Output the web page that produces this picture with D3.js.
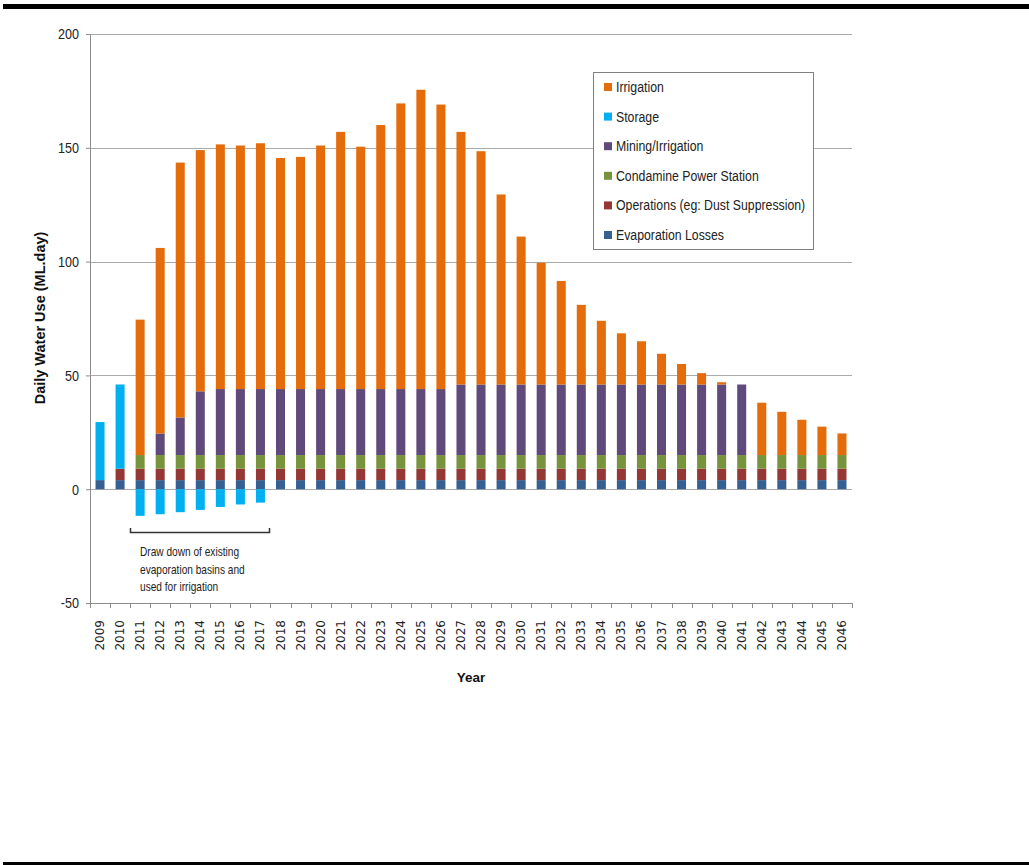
<!DOCTYPE html>
<html>
<head>
<meta charset="utf-8">
<script src="https://cdn.jsdelivr.net/npm/d3@7/dist/d3.min.js"></script>
<style>
html,body{margin:0;padding:0;background:#fff;}
svg{display:block;}
</style>
</head>
<body>
<script>
const years = d3.range(2009, 2047).map(String);
const evaporation = [4,4,4,4,4,4,4,4,4,4,4,4,4,4,4,4,4,4,4,4,4,4,4,4,4,4,4,4,4,4,4,4,4,4,4,4,4,4];
const operations  = [0,5,5,5,5,5,5,5,5,5,5,5,5,5,5,5,5,5,5,5,5,5,5,5,5,5,5,5,5,5,5,5,5,5,5,5,5,5];
const condamine   = [0,0,6,6,6,6,6,6,6,6,6,6,6,6,6,6,6,6,6,6,6,6,6,6,6,6,6,6,6,6,6,6,6,6,6,6,6,6];
const storage     = [25.5,37,-11.7,-11,-10.1,-9.1,-7.8,-6.7,-5.9,0,0,0,0,0,0,0,0,0,0,0,0,0,0,0,0,0,0,0,0,0,0,0,0,0,0,0,0,0];
const mining      = [0,0,0,9.5,16.5,28,29,29,29,29,29,29,29,29,29,29,29,29,31,31,31,31,31,31,31,31,31,31,31,31,31,31,31,0,0,0,0,0];
const irrigation  = [0,0,59.5,81.5,112,106,107.5,107,108,101.5,102,107,113,106.5,116,125.5,131.5,125,111,102.5,83.5,65,53.5,45.5,35,28,22.5,19,13.5,9,5,1,0,23,19,15.5,12.5,9.5];
const yTicks = [-50,0,50,100,150,200];
const seriesNames = ["Evaporation Losses","Operations (eg: Dust Suppression)","Condamine Power Station","Storage","Mining/Irrigation","Irrigation"];
const seriesColors = ["#376092","#953735","#77933C","#00B0F0","#604A7B","#E46C0A"];
const legendOrder = ["Irrigation","Storage","Mining/Irrigation","Condamine Power Station","Operations (eg: Dust Suppression)","Evaporation Losses"];
const noteLines = ["Draw down of existing","evaporation basins and","used for irrigation"];

const seriesValues = [evaporation, operations, condamine, storage, mining, irrigation];
const rows = years.map((yr,i)=>{
  const r = {year:yr};
  seriesNames.forEach((n,k)=>{ r[n] = seriesValues[k][i]; });
  return r;
});

const W = 1029, H = 865;
const pL = 90, pR = 852, pT = 34, pB = 603;
const sans = "'Liberation Sans',Arial,sans-serif";

const svg = d3.select("body").append("svg").attr("width",W).attr("height",H);
svg.append("rect").attr("width",W).attr("height",H).attr("fill","#fff");

// page rules
svg.append("rect").attr("x",3).attr("y",4).attr("width",W-3).attr("height",5).attr("fill","#000");
svg.append("rect").attr("x",3).attr("y",862).attr("width",W-3).attr("height",3).attr("fill","#000");

const x = d3.scaleBand().domain(years).range([pL,pR]).paddingInner(0.55).paddingOuter(0.275);
const y = d3.scaleLinear().domain([-50,200]).range([pB,pT]);

// gridlines
svg.append("g").selectAll("line").data(yTicks.filter(t=>t>-50)).join("line")
  .attr("x1",pL).attr("x2",pR).attr("y1",d=>Math.round(y(d))+0.5).attr("y2",d=>Math.round(y(d))+0.5)
  .attr("stroke","#ababab").attr("stroke-width",1);

// y axis
const yAxis = svg.append("g").attr("transform",`translate(${pL},0)`)
  .call(d3.axisLeft(y).tickValues(yTicks).tickFormat(d=>String(d)).tickSize(4).tickPadding(0));
yAxis.select(".domain").attr("stroke","#8c8c8c");
yAxis.selectAll(".tick line").attr("stroke","#8c8c8c");
yAxis.selectAll(".tick text").attr("font-family",sans).attr("font-size",15).attr("fill","#222")
  .attr("x",0).attr("transform","translate(-11,0) scale(0.84,1)");

// x axis
const xAxis = svg.append("g").attr("transform",`translate(0,${pB})`)
  .call(d3.axisBottom(x).tickSize(0).tickPadding(0));
xAxis.select(".domain").attr("stroke","#8c8c8c").attr("d",`M${pL},0.5H${pR}`);
xAxis.selectAll(".tick text")
  .attr("font-family","'DejaVu Sans',Verdana,sans-serif").attr("font-size",12).attr("fill","#222")
  .attr("text-anchor","end").attr("dominant-baseline","central")
  .attr("transform","translate(0,17) rotate(-90)").attr("y",0).attr("dy",null);
// boundary ticks
const bounds = years.map(d=>x(d)-x.step()*x.paddingInner()/2).concat([pR]);
bounds[0] = pL;
svg.append("g").selectAll("line").data(bounds).join("line")
  .attr("x1",d=>Math.round(d)+0.5).attr("x2",d=>Math.round(d)+0.5).attr("y1",pB).attr("y2",pB+5)
  .attr("stroke","#8c8c8c");

// stacked bars
const stack = d3.stack().keys(seriesNames).offset(d3.stackOffsetDiverging);
const stacked = stack(rows);
svg.append("g").selectAll("g").data(stacked).join("g")
  .attr("fill",(d,i)=>seriesColors[i])
  .selectAll("rect").data(d=>d.filter(p=>p[1]!==p[0])).join("rect")
  .attr("x",d=>x(d.data.year)).attr("width",x.bandwidth())
  .attr("y",d=>y(Math.max(d[0],d[1]))).attr("height",d=>Math.abs(y(d[0])-y(d[1])));

// axis titles
svg.append("text").attr("transform","translate(40,318) rotate(-90)")
  .attr("text-anchor","middle").attr("dominant-baseline","central")
  .attr("font-family",sans).attr("font-weight","bold").attr("font-size",14.5)
  .attr("fill","#111").text("Daily Water Use (ML.day)");
svg.append("text").attr("x",471).attr("y",682).attr("text-anchor","middle")
  .attr("font-family",sans).attr("font-weight","bold").attr("font-size",13.5)
  .attr("fill","#111").text("Year");

// annotation bracket
svg.append("path").attr("d","M130.5,528V532.5H269.5V528").attr("fill","none").attr("stroke","#333").attr("stroke-width",1.5);
svg.append("g").selectAll("text").data(noteLines).join("text")
  .attr("transform",(d,i)=>`translate(140,${556+i*17.5}) scale(0.78,1)`)
  .attr("font-family",sans).attr("font-size",13).attr("fill","#222").text(d=>d);

// legend
const lg = svg.append("g").attr("transform","translate(593,72)");
lg.append("rect").attr("x",0.5).attr("y",0.5).attr("width",220).attr("height",177)
  .attr("fill","#fff").attr("stroke","#7f7f7f");
const items = lg.selectAll("g.item").data(legendOrder).join("g").attr("class","item")
  .attr("transform",(d,i)=>`translate(0,${15+i*29.6})`);
items.append("rect").attr("x",11).attr("y",-4).attr("width",8).attr("height",8)
  .attr("fill",d=>seriesColors[seriesNames.indexOf(d)]);
items.append("text").attr("transform","translate(23,0) scale(0.82,1)").attr("dominant-baseline","central")
  .attr("font-family",sans).attr("font-size",15).attr("fill","#222").text(d=>d);
</script>
</body>
</html>
